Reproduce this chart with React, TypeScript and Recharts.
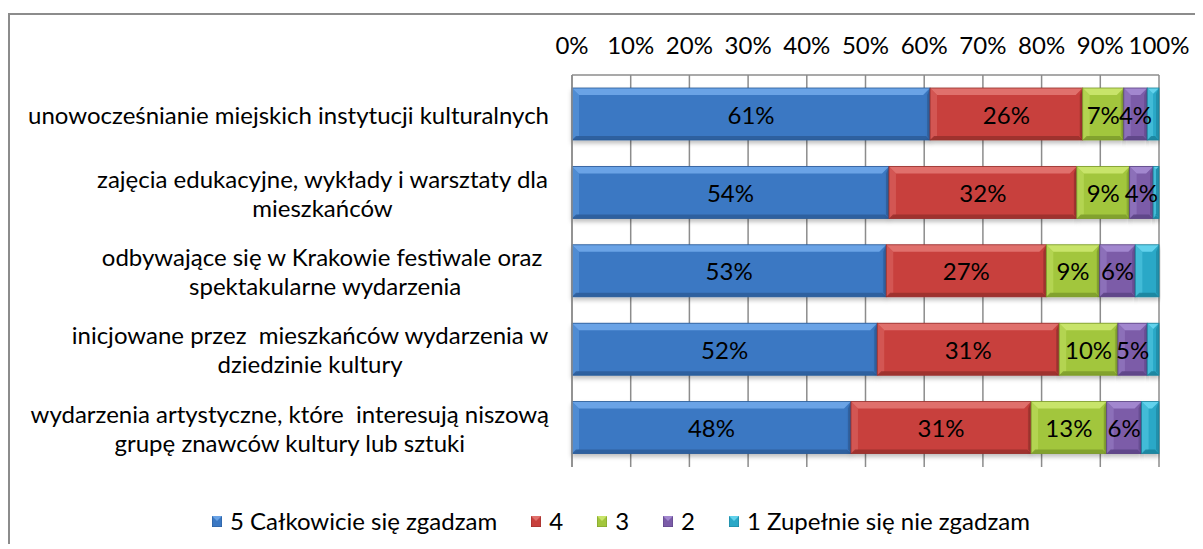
import React from 'react';
import { BarChart, Bar, XAxis, YAxis, CartesianGrid, LabelList } from 'recharts';

// categories (explicit line breaks as in the original chart)
const categories = [
  'unowocześnianie miejskich instytucji kulturalnych',
  'zajęcia edukacyjne, wykłady i warsztaty dla\nmieszkańców',
  'odbywające się w Krakowie festiwale oraz \nspektakularne wydarzenia',
  'inicjowane przez  mieszkańców wydarzenia w\ndziedzinie kultury',
  'wydarzenia artystyczne, które  interesują niszową\ngrupę znawców kultury lub sztuki',
];

const seriesNames = ['5 Całkowicie się zgadzam', '4', '3', '2', '1 Zupełnie się nie zgadzam'];

const score5 = [61, 54, 53, 52, 48];
const score4 = [26, 32, 27, 31, 31];
const score3 = [7, 9, 9, 10, 13];
const score2 = [4, 4, 6, 5, 6];
const score1 = [2, 1, 4, 2, 3];

const xTicks = [0, 0.1, 0.2, 0.3, 0.4, 0.5, 0.6, 0.7, 0.8, 0.9, 1];

const seriesKeys = ['s5', 's4', 's3', 's2', 's1'];
const seriesValues = [score5, score4, score3, score2, score1];

const data = categories.map((name, i) => ({
  name,
  s5: score5[i],
  s4: score4[i],
  s3: score3[i],
  s2: score2[i],
  s1: score1[i],
}));

const palette = [
  { base: '#3b78c3', light: '#6aa3e6', dark: '#2b5a96' },
  { base: '#c8403d', light: '#e0706c', dark: '#952e2c' },
  { base: '#a2c63c', light: '#c8e46a', dark: '#7a982a' },
  { base: '#7b5ca8', light: '#a287cf', dark: '#5a4282' },
  { base: '#2aa8c7', light: '#62d2ec', dark: '#1d8099' },
];

const FONT_FAMILY = 'Lato, "DejaVu Sans", sans-serif';
const FONT_SIZE = 24;

const measureCtx = typeof document !== 'undefined' ? document.createElement('canvas').getContext('2d') : null;
const textWidth = (s: string) => {
  if (!measureCtx) return s.length * 11;
  measureCtx.font = `${FONT_SIZE}px Lato`;
  return measureCtx.measureText(s).width;
};

const CategoryTick = ({ x, y, payload }: any) => {
  const lines = String(payload.value).split('\n');
  const lineH = 29;
  if (lines.length === 1) {
    return (
      <text x={x} y={y} textAnchor="end" dominantBaseline="central" fontFamily={FONT_FAMILY} fontSize={FONT_SIZE} fill="#000" style={{ whiteSpace: 'pre' }}>
        {lines[0]}
      </text>
    );
  }
  const w = Math.max(...lines.map(textWidth));
  const cx = x - w / 2;
  return (
    <g>
      {lines.map((l, i) => (
        <text key={i} x={cx} y={y + (i - (lines.length - 1) / 2) * lineH} textAnchor="middle" dominantBaseline="central"
          fontFamily={FONT_FAMILY} fontSize={FONT_SIZE} fill="#000" style={{ whiteSpace: 'pre' }}>
          {l}
        </text>
      ))}
    </g>
  );
};

const PercentTick = ({ x, y, payload }: any) => (
  <text x={x} y={y - 1} textAnchor="middle" dominantBaseline="central" fontFamily={FONT_FAMILY} fontSize={FONT_SIZE} fill="#000">
    {Math.round(payload.value * 100)}%
  </text>
);

// bevelled bar, roughly like the old Excel 3D style
const makeShape = (c: { base: string; light: string; dark: string }) => (props: any) => {
  const { x, y, width, height } = props;
  if (!width || width <= 0) return <g />;
  const b = Math.min(7, width / 2, height / 2);
  const r = x + width;
  const btm = y + height;
  return (
    <g filter="url(#barShadow)">
      <rect x={x} y={y} width={width} height={height} fill={c.base} />
      <polygon points={`${x},${y} ${r},${y} ${r - b},${y + b} ${x + b},${y + b}`} fill={c.light} />
      <polygon points={`${x},${y} ${x + b},${y + b} ${x + b},${btm - 4} ${x},${btm}`} fill={c.light} opacity={0.45} />
      <polygon points={`${x},${btm} ${x + 4},${btm - 4} ${r - 4},${btm - 4} ${r},${btm}`} fill={c.dark} opacity={0.8} />
      <polygon points={`${r},${y} ${r},${btm} ${r - 3},${btm - 4} ${r - 3},${y + b}`} fill={c.dark} opacity={0.6} />
      <rect x={x} y={y} width={width} height={height} fill="none" stroke={c.dark} strokeWidth={0.8} />
    </g>
  );
};

const makeLabel = (values: number[]) => (props: any) => {
  const { x, y, width, height, index } = props;
  return (
    <text x={x + width / 2} y={y + height / 2} textAnchor="middle" dominantBaseline="central"
      fontFamily={FONT_FAMILY} fontSize={FONT_SIZE} fill="#000">
      {values[index]}%
    </text>
  );
};

const LegendIcon = ({ c }: { c: { base: string; light: string; dark: string } }) => (
  <svg width={10} height={11} style={{ display: 'block' }}>
    <rect x={0} y={0} width={10} height={11} fill={c.base} stroke={c.dark} strokeWidth={1} />
    <polygon points="0,0 10,0 5,5" fill={c.light} />
  </svg>
);

export default function App() {
  return (
    <div style={{ position: 'relative', top: 5, width: 1193, height: 534, borderLeft: '2px solid #8c8c8c', borderTop: '2px solid #8c8c8c', background: '#fff' }}>
      <BarChart
        width={1193}
        height={534}
        data={data}
        layout="vertical"
        stackOffset="expand"
        barSize={52}
        margin={{ top: 20, right: 44, bottom: 82, left: 10 }}
      >
        <defs>
          <filter id="barShadow" x="-5%" y="-20%" width="110%" height="160%">
            <feDropShadow dx="0" dy="3" stdDeviation="2" floodColor="#000" floodOpacity="0.25" />
          </filter>
        </defs>
        <CartesianGrid horizontal={false} vertical stroke="#8c8c8c" strokeWidth={1.5} />
        <XAxis
          type="number"
          orientation="top"
          domain={[0, 1]}
          ticks={xTicks}
          height={40}
          tickSize={0}
          tickMargin={30}
          tick={<PercentTick />}
          axisLine={{ stroke: '#8c8c8c', strokeWidth: 1.5 }}
          interval={0}
        />
        <YAxis
          type="category"
          dataKey="name"
          width={552}
          tickSize={0}
          tickMargin={23}
          tickLine={false}
          tick={<CategoryTick />}
          axisLine={{ stroke: '#8c8c8c', strokeWidth: 1.5 }}
          interval={0}
        />
        {seriesKeys.map((k, i) => (
          <Bar key={k} dataKey={k} name={seriesNames[i]} stackId="a" fill={palette[i].base}
            shape={makeShape(palette[i])} isAnimationActive={false}>
            {i < 4 && <LabelList dataKey={k} content={makeLabel(seriesValues[i])} />}
          </Bar>
        ))}
      </BarChart>
      <div style={{ position: 'absolute', left: 202, top: 493, display: 'flex', alignItems: 'center', fontFamily: FONT_FAMILY, fontSize: FONT_SIZE, color: '#000', lineHeight: '26px', whiteSpace: 'nowrap' }}>
        {seriesNames.map((n, i) => (
          <div key={n} style={{ display: 'flex', alignItems: 'center', marginRight: 34 }}>
            <LegendIcon c={palette[i]} />
            <span style={{ marginLeft: 8 }}>{n}</span>
          </div>
        ))}
      </div>
    </div>
  );
}
